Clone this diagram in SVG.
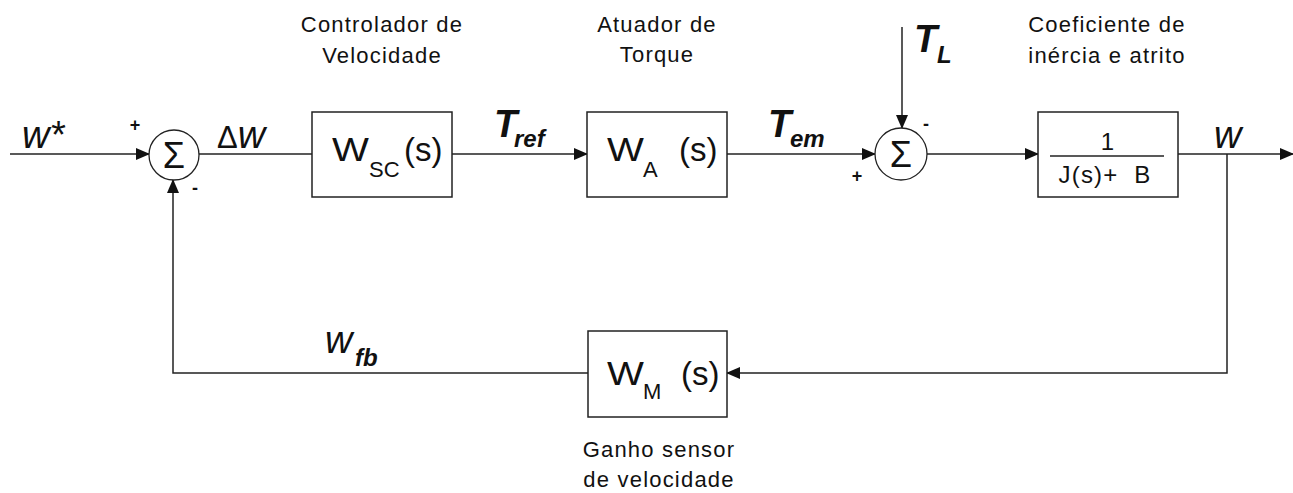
<svg xmlns="http://www.w3.org/2000/svg" width="1293" height="493" viewBox="0 0 1293 493">
  <defs>
    <marker id="arrow" markerWidth="14" markerHeight="12" refX="13" refY="6" orient="auto" markerUnits="userSpaceOnUse">
      <path d="M0,0 L14,6 L0,12 Z" fill="#111"/>
    </marker>
  </defs>
  <style>
    .wire { fill: none; stroke: #222; stroke-width: 1.5; }
    .box { fill: #fff; stroke: #222; stroke-width: 1.5; }
    .sum { fill: #fff; stroke: #222; stroke-width: 1.3; }
    .cap { font-family: "Liberation Sans", Arial, sans-serif; font-size: 22px; letter-spacing: 1.2px; fill: #111; text-anchor: middle; }
    .sig { font-family: "Liberation Sans", Arial, sans-serif; font-size: 38px; font-style: italic; fill: #111; }
    .torque { font-weight: bold; }
    .sub { font-family: "Liberation Sans", Arial, sans-serif; font-size: 24px; font-style: italic; font-weight: bold; fill: #111; }
    .blkW { font-family: "Liberation Sans", Arial, sans-serif; font-size: 34px; fill: #111; }
    .blk { font-family: "Liberation Sans", Arial, sans-serif; font-size: 33px; fill: #111; }
    .bsub { font-family: "Liberation Sans", Arial, sans-serif; font-size: 22px; fill: #111; }
    .sigma { font-family: "Liberation Sans", Arial, sans-serif; font-size: 36px; fill: #111; text-anchor: middle; }
    .sign { font-family: "Liberation Sans", Arial, sans-serif; font-size: 18px; font-weight: bold; fill: #111; text-anchor: middle; }
    .frac { font-family: "Liberation Sans", Arial, sans-serif; font-size: 24px; letter-spacing: 1.2px; fill: #111; text-anchor: middle; }
  </style>
  <rect width="1293" height="493" fill="#fff"/>

  <!-- signal connectors -->
  <g id="connectors">
    <line class="wire" x1="10" y1="154" x2="149" y2="154" marker-end="url(#arrow)"/>
    <line class="wire" x1="199" y1="154" x2="312" y2="154"/>
    <line class="wire" x1="452" y1="154" x2="587" y2="154" marker-end="url(#arrow)"/>
    <line class="wire" x1="727" y1="154" x2="875" y2="154" marker-end="url(#arrow)"/>
    <line class="wire" x1="902" y1="27" x2="902" y2="128" marker-end="url(#arrow)"/>
    <line class="wire" x1="927" y1="154" x2="1038" y2="154" marker-end="url(#arrow)"/>
    <line class="wire" x1="1178" y1="154" x2="1293" y2="154" marker-end="url(#arrow)"/>
    <polyline class="wire" points="1227,154 1227,373 727,373" marker-end="url(#arrow)"/>
    <polyline class="wire" points="588,373 173,373 173,180" marker-end="url(#arrow)"/>
  </g>

  <!-- signal labels -->
  <g id="signal-labels">
    <text class="sig" x="22" y="148">w*</text>
    <text class="sig" x="217" y="148"><tspan font-style="normal" font-size="31">Δ</tspan>w</text>
    <text class="sig torque" x="494" y="137">T</text>
    <text class="sub" x="514" y="147">ref</text>
    <text class="sig torque" x="768" y="137">T</text>
    <text class="sub" x="790" y="147">em</text>
    <text class="sig torque" x="914" y="52">T</text>
    <text class="sub" x="937" y="63">L</text>
    <text class="sig" x="1214" y="148">w</text>
    <text class="sig" x="325" y="353">w</text>
    <text class="sub" x="355" y="366">fb</text>
  </g>

  <!-- summing junction 1 -->
  <g id="sum1">
    <circle class="sum" cx="174" cy="155" r="25"/>
    <text class="sigma" x="174" y="168">Σ</text>
    <text class="sign" x="135" y="131">+</text>
    <text class="sign" x="195" y="194">-</text>
  </g>

  <!-- speed controller -->
  <g id="speed-controller">
    <rect class="box" x="312" y="112" width="140" height="85"/>
    <text class="blkW" transform="translate(332,161) scale(1.15,1)">W</text>
    <text class="bsub" x="369" y="177">SC</text>
    <text class="blk" x="404" y="161">(s)</text>
    <text class="cap" x="382" y="32">Controlador de</text>
    <text class="cap" x="382" y="63">Velocidade</text>
  </g>

  <!-- torque actuator -->
  <g id="torque-actuator">
    <rect class="box" x="587" y="112" width="140" height="85"/>
    <text class="blkW" transform="translate(607,161) scale(1.15,1)">W</text>
    <text class="bsub" x="643" y="177">A</text>
    <text class="blk" x="679" y="161">(s)</text>
    <text class="cap" x="657" y="32">Atuador de</text>
    <text class="cap" x="657" y="62">Torque</text>
  </g>

  <!-- summing junction 2 -->
  <g id="sum2">
    <circle class="sum" cx="901" cy="154" r="26"/>
    <text class="sigma" x="901" y="167">Σ</text>
    <text class="sign" x="857" y="182">+</text>
    <text class="sign" x="926" y="130">-</text>
  </g>

  <!-- inertia and friction -->
  <g id="inertia-friction">
    <rect class="box" x="1038" y="112" width="140" height="85"/>
    <text class="frac" x="1108" y="150">1</text>
    <line class="wire" x1="1050" y1="156" x2="1164" y2="156"/>
    <text class="frac" x="1105" y="183" xml:space="preserve">J(s)+  B</text>
    <text class="cap" x="1107" y="32">Coeficiente de</text>
    <text class="cap" x="1107" y="63">inércia e atrito</text>
  </g>

  <!-- speed sensor gain -->
  <g id="speed-sensor">
    <rect class="box" x="588" y="331" width="139" height="86"/>
    <text class="blkW" transform="translate(607,385) scale(1.15,1)">W</text>
    <text class="bsub" x="643" y="399">M</text>
    <text class="blk" x="681" y="385">(s)</text>
    <text class="cap" x="659" y="457">Ganho sensor</text>
    <text class="cap" x="659" y="487">de velocidade</text>
  </g>
</svg>
